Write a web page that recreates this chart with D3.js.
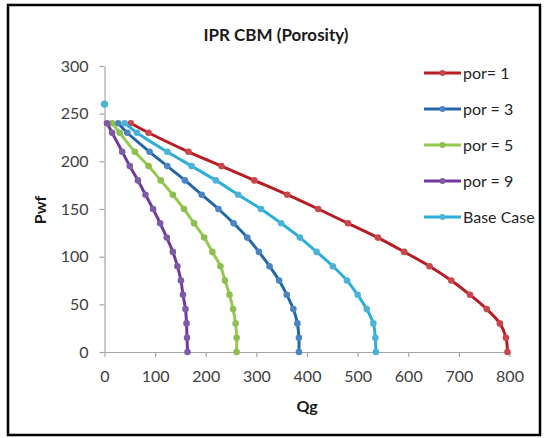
<!DOCTYPE html>
<html>
<head>
<meta charset="utf-8">
<script src="https://cdn.jsdelivr.net/npm/d3@7"></script>
<style>
  html, body { margin: 0; padding: 0; background: #fff; }
  svg { display: block; font-family: Lato, "Open Sans", sans-serif; }
</style>
</head>
<body>
<svg id="chart" width="545" height="438"></svg>
<script>
// Bottom-hole flowing pressure shared by every IPR curve
const pwf = [240, 230, 210, 195, 180, 165, 150, 135, 120, 105, 90, 75, 60, 45, 30, 15, 0];

// Gas rate for each porosity case
const qPor1 = [52, 87, 166, 231, 296, 361, 422, 481, 540, 592, 642, 685, 722, 755, 781, 793, 796];
const qPor3 = [27, 45, 89, 124, 159, 192, 225, 255, 282, 305, 326, 345, 360, 373, 381, 384, 384];
const qPor5 = [15, 30, 60, 87, 111, 135, 157, 177, 197, 213, 229, 238, 247, 254, 259, 261, 261];
const qPor9 = [5, 15, 35, 50, 66, 81, 96, 110, 123, 135, 144, 151, 155, 160, 162, 163, 164];
const qBase = [40, 64, 124, 172, 220, 264, 309, 349, 386, 419, 451, 479, 500, 518, 531, 535, 536];

// Reservoir pressure point of the base case (zero rate)
const baseStartQ = [0];
const baseStartPwf = [260];

const seriesNames = ["por= 1", "por = 3", "por = 5", "por = 9", "Base Case"];
const xTicks = [0, 100, 200, 300, 400, 500, 600, 700, 800];
const yTicks = [0, 50, 100, 150, 200, 250, 300];

const lineColors = ["#B81D24", "#2267A8", "#94CB4F", "#7238A0", "#2BAEDC"];
const markColors = ["#C9474C", "#4A84C2", "#8DBE4E", "#7F5BA6", "#4BB4D6"];

const series = [qPor1, qPor3, qPor5, qPor9, qBase].map((q, i) => ({
  name: seriesNames[i],
  points: q.map((v, j) => ({ q: v, p: pwf[j] })),
  line: lineColors[i],
  mark: markColors[i]
}));

const svg = d3.select("#chart");

// Chart frame
svg.append("rect")
  .attr("x", 8).attr("y", 5).attr("width", 532).attr("height", 430)
  .attr("fill", "#fff").attr("stroke", "#000").attr("stroke-width", 2.5);

const x = d3.scaleLinear().domain([0, 800]).range([104.5, 509.5]);
const y = d3.scaleLinear().domain([0, 300]).range([352, 66]);

// Axes
const xAxis = svg.append("g")
  .attr("transform", `translate(0,${y(0)})`)
  .call(d3.axisBottom(x).tickValues(xTicks).tickSize(5).tickPadding(14).tickSizeOuter(0));
const yAxis = svg.append("g")
  .attr("transform", `translate(${x(0)},0)`)
  .call(d3.axisLeft(y).tickValues(yTicks).tickSize(5).tickPadding(11).tickSizeOuter(0));

[xAxis, yAxis].forEach(g => {
  g.select(".domain").attr("stroke", "#A6A6A6").attr("stroke-width", 1.2);
  g.selectAll(".tick line").attr("stroke", "#A6A6A6").attr("stroke-width", 1.2);
  g.selectAll(".tick text")
    .attr("fill", "#404040")
    .style("font-size", "16px")
    .style("font-family", "Lato, 'Open Sans', sans-serif");
});

// Curves
const line = d3.line()
  .x(d => x(d.q))
  .y(d => y(d.p))
  .curve(d3.curveCatmullRom.alpha(0.5));

const plot = svg.append("g");
series.forEach(s => {
  plot.append("path")
    .datum(s.points)
    .attr("fill", "none")
    .attr("stroke", s.line)
    .attr("stroke-width", 3)
    .attr("stroke-linejoin", "round")
    .attr("d", line);
  plot.selectAll(null)
    .data(s.points)
    .join("circle")
    .attr("cx", d => x(d.q))
    .attr("cy", d => y(d.p))
    .attr("r", 3.3)
    .attr("fill", s.mark);
});

// Isolated base-case reservoir point
plot.selectAll(null)
  .data(baseStartQ.map((q, i) => ({ q, p: baseStartPwf[i] })))
  .join("circle")
  .attr("cx", d => x(d.q))
  .attr("cy", d => y(d.p))
  .attr("r", 3.6)
  .attr("fill", markColors[4]);

// Titles
svg.append("text")
  .attr("x", 276).attr("y", 41)
  .attr("text-anchor", "middle")
  .style("font-size", "17px").style("font-weight", "bold")
  .attr("fill", "#1a1a1a")
  .text("IPR CBM (Porosity)");

svg.append("text")
  .attr("x", 307).attr("y", 412)
  .attr("text-anchor", "middle")
  .style("font-size", "16px").style("font-weight", "bold")
  .attr("fill", "#1a1a1a")
  .text("Qg");

svg.append("text")
  .attr("transform", "translate(46,210) rotate(-90)")
  .attr("text-anchor", "middle")
  .style("font-size", "16px").style("font-weight", "bold")
  .attr("fill", "#1a1a1a")
  .text("Pwf");

// Legend
const legend = svg.append("g");
series.forEach((s, i) => {
  const cy = 73 + i * 36;
  legend.append("line")
    .attr("x1", 424).attr("x2", 461).attr("y1", cy).attr("y2", cy)
    .attr("stroke", s.line).attr("stroke-width", 3);
  legend.append("circle")
    .attr("cx", 442.5).attr("cy", cy).attr("r", 3)
    .attr("fill", s.mark);
  legend.append("text")
    .attr("x", 463).attr("y", cy + 6)
    .style("font-size", "16px")
    .attr("fill", "#262626")
    .text(s.name);
});
</script>
</body>
</html>
